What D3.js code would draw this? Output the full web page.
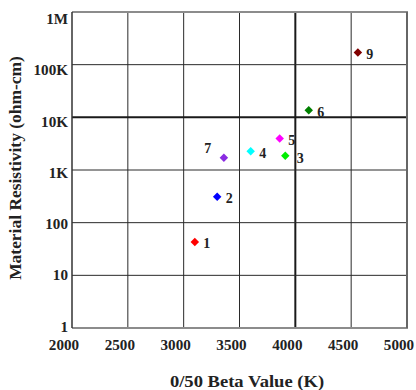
<!DOCTYPE html>
<html>
<head>
    <meta charset="utf-8">
    <script src="https://d3js.org/d3.v7.min.js"></script>
    <style>
        body { margin: 0; background: #ffffff; }
        #chart .font { font-family: "Liberation Serif", "DejaVu Serif", serif; font-weight: bold; fill: #222222; }
        #chart .tick-label { font-size: 14px; }
        #chart .axis-title { font-size: 16px; }
        #chart .point-label { font-size: 14px; }
        #chart .grid { stroke: #2a2a2a; stroke-width: 1; }
        #chart .grid-strong { stroke: #1a1a1a; stroke-width: 2; }
    </style>
</head>
<body>
<script>
    const WIDTH = 416;
    const HEIGHT = 390;

    // data
    const POINT_IDS = ["1", "2", "3", "4", "5", "6", "7", "9"];
    const BETA_VALUES = [3100, 3300, 3910, 3600, 3860, 4120, 3360, 4560];
    const RESISTIVITY = [43, 310, 1860, 2280, 3980, 13700, 1700, 170000];
    const X_TICKS = [2000, 2500, 3000, 3500, 4000, 4500, 5000];
    const Y_TICKS = [1, 10, 100, 1e3, 1e4, 1e5, 1e6];
    const Y_TICK_LABELS = ["1", "10", "100", "1K", "10K", "100K", "1M"];

    const POINT_COLORS = ["#ff0000", "#0000ff", "#00ee00", "#00ffff", "#ff00ff", "#008000", "#8a2be2", "#800000"];
    const LABEL_OFFSETS = { "7": [-16, -9], "3": [15, 3] };
    const DEFAULT_OFFSET = [12, 2];

    const PLOT = { left: 72, right: 407, top: 12, bottom: 328 };

    // the original type is a little wider than Liberation Serif
    function widen(sel, factor) {
        sel.each(function() {
            var len = this.getComputedTextLength();
            d3.select(this)
                .attr("textLength", len * factor)
                .attr("lengthAdjust", "spacingAndGlyphs");
        });
    }

    var svg = d3.select("body").append("svg")
        .attr("id", "chart")
        .attr("width", WIDTH)
        .attr("height", HEIGHT);

    var x = d3.scaleLinear().domain([2000, 5000]).range([PLOT.left, PLOT.right]);
    var y = d3.scaleLog().domain([1, 1e6]).range([PLOT.bottom, PLOT.top]);
    // tick labels sit on a slightly tighter spacing than the grid
    var yLabel = d3.scaleLog().domain([1, 1e6]).range([327, 19.5]);

    // grid
    var grid = svg.append("g");
    X_TICKS.slice(1, -1).forEach(function(t) {
        grid.append("line")
            .attr("class", t === 4000 ? "grid-strong" : "grid")
            .attr("x1", x(t)).attr("x2", x(t))
            .attr("y1", PLOT.top).attr("y2", PLOT.bottom);
    });
    Y_TICKS.slice(1, -1).forEach(function(t) {
        grid.append("line")
            .attr("class", t === 1e4 ? "grid-strong" : "grid")
            .attr("x1", PLOT.left).attr("x2", PLOT.right)
            .attr("y1", y(t)).attr("y2", y(t));
    });

    // frame
    var frame = svg.append("g").attr("fill", "none");
    frame.append("line").attr("x1", PLOT.left).attr("x2", PLOT.right + 1)
        .attr("y1", PLOT.top).attr("y2", PLOT.top).attr("stroke", "#8c8c8c").attr("stroke-width", 2);
    frame.append("line").attr("x1", PLOT.left).attr("x2", PLOT.right + 1)
        .attr("y1", PLOT.bottom).attr("y2", PLOT.bottom).attr("stroke", "#8c8c8c").attr("stroke-width", 2);
    frame.append("line").attr("x1", PLOT.left).attr("x2", PLOT.left)
        .attr("y1", PLOT.top).attr("y2", PLOT.bottom).attr("stroke", "#333333").attr("stroke-width", 1.5);
    frame.append("line").attr("x1", PLOT.right).attr("x2", PLOT.right)
        .attr("y1", PLOT.top).attr("y2", PLOT.bottom).attr("stroke", "#666666").attr("stroke-width", 2);

    // tick labels
    var xLabels = svg.selectAll(".xtick")
        .data(X_TICKS)
        .enter()
        .append("text")
        .attr("class", "font tick-label")
        .attr("text-anchor", "middle")
        .attr("x", function(d) { return x(d) - 8; })
        .attr("y", 350)
        .text(function(d) { return d; });
    widen(xLabels, 1.08);

    var yLabels = svg.selectAll(".ytick")
        .data(Y_TICKS)
        .enter()
        .append("text")
        .attr("class", "font tick-label")
        .attr("text-anchor", "end")
        .attr("dominant-baseline", "central")
        .attr("x", 68)
        .attr("y", function(d) { return yLabel(d); })
        .text(function(d, i) { return Y_TICK_LABELS[i]; });
    widen(yLabels, 1.08);

    // axis titles
    var xTitle = svg.append("text")
        .attr("class", "font axis-title")
        .attr("text-anchor", "middle")
        .attr("x", 247)
        .attr("y", 387)
        .text("0/50 Beta Value (K)");
    widen(xTitle, 1.16);

    var yTitle = svg.append("text")
        .attr("class", "font axis-title")
        .attr("text-anchor", "middle")
        .attr("transform", "translate(21,168) rotate(-90)")
        .text("Material Resistivity (ohm-cm)");
    widen(yTitle, 1.09);

    // points
    var diamond = d3.symbol().type(d3.symbolSquare).size(36);
    var points = svg.append("g");
    POINT_IDS.forEach(function(id, i) {
        var px = x(BETA_VALUES[i]);
        var py = y(RESISTIVITY[i]);
        points.append("path")
            .attr("d", diamond())
            .attr("fill", POINT_COLORS[i])
            .attr("transform", "translate(" + px + "," + py + ") rotate(45)");
        var off = LABEL_OFFSETS[id] || DEFAULT_OFFSET;
        points.append("text")
            .attr("class", "font point-label")
            .attr("text-anchor", "middle")
            .attr("dominant-baseline", "central")
            .attr("x", px + off[0])
            .attr("y", py + off[1])
            .text(id);
    });
</script>
</body>
</html>
